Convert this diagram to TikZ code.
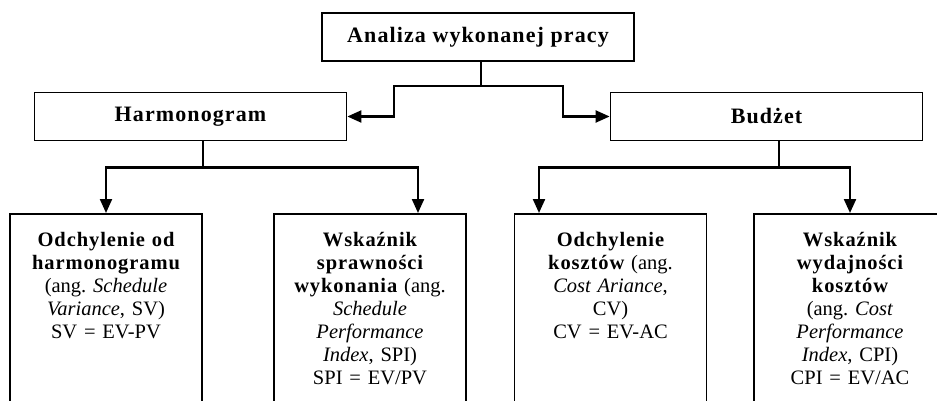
\documentclass[tikz,border=0pt]{standalone}
\usepackage{fontspec}
\setmainfont{Liberation Serif}
\usetikzlibrary{arrows.meta}
\frenchspacing
\newcommand{\wyr}[1]{{\bfseries\addfontfeature{LetterSpace=4.5}#1}}

\begin{document}
\begin{tikzpicture}[x=1pt, y=-1pt,
	box/.style={draw, line width=1.8pt, inner sep=0pt, minimum width=312pt, minimum height=48pt, font=\fontsize{22}{26}\selectfont\bfseries\addfontfeature{LetterSpace=5}},
	leaf/.style={draw, line width=1.8pt, anchor=north, text width=180pt, align=center, inner xsep=6pt, inner ysep=18pt, text depth=200pt, font=\fontsize{20.5}{23}\selectfont},
	stem/.style={line width=1.2pt},
	arr/.style={line width=2.2pt, -{Triangle[length=14pt,width=12pt]}}]
	\clip (0,0) rectangle (937,401);

	\node[box] (analiza) at (478,37) {Analiza wykonanej pracy};
	\node[box] (harm) at (190.5,116.5) {Harmonogram};
	\node[box] (budzet) at (766.5,116.5) {Budżet};

	\node[leaf] (sv) at (106,213) {\wyr{Odchylenie od}\\ \wyr{harmonogramu}\\ (ang. \textit{Schedule}\\ \textit{Variance}, SV)\\ SV = EV-PV};
	\node[leaf] (spi) at (370,213) {\wyr{Wskaźnik}\\ \wyr{sprawności}\\ \wyr{wykonania} (ang.\\ \textit{Schedule}\\ \textit{Performance}\\ \textit{Index}, SPI)\\ SPI = EV/PV};
	\node[leaf] (cv) at (610.5,213) {\wyr{Odchylenie}\\ \wyr{kosztów} (ang.\\ \textit{Cost Ariance},\\ CV)\\ CV = EV-AC};
	\node[leaf] (cpi) at (850,213) {\wyr{Wskaźnik}\\ \wyr{wydajności}\\ \wyr{kosztów}\\ (ang. \textit{Cost}\\ \textit{Performance}\\ \textit{Index}, CPI)\\ CPI = EV/AC};

	% top level
	\draw[stem] ([xshift=3pt]analiza.south) -- ++(0,24) coordinate (aj);
	\draw[arr] (aj) -- ++(-87,0) |- (harm.east);
	\draw[arr] (aj) -- ++(82,0) |- (budzet.west);

	% harmonogram
	\draw[stem] ([xshift=12.5pt]harm.south) -- ++(0,26) coordinate (hj);
	\draw[arr] (hj) -| (sv.north);
	\draw[arr] (hj) -| ([xshift=48pt]spi.north);

	% budzet
	\draw[stem] ([xshift=12.5pt]budzet.south) -- ++(0,26) coordinate (bj);
	\draw[arr] (bj) -| ([xshift=-71.5pt]cv.north);
	\draw[arr] (bj) -| (cpi.north);
\end{tikzpicture}
\end{document}
